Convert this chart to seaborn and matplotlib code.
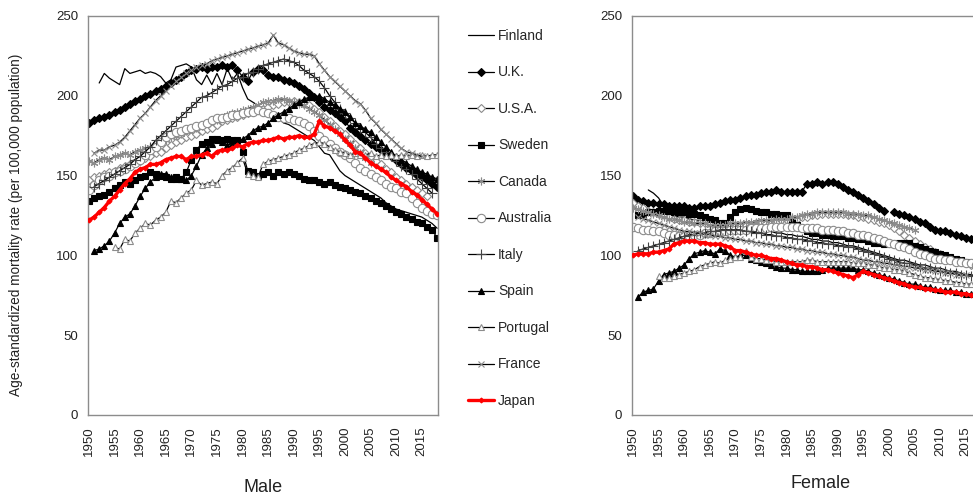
import numpy as np
import pandas as pd
import matplotlib
matplotlib.use("Agg")
import matplotlib.pyplot as plt
import seaborn as sns

# ---- data: age-standardized mortality rate (per 100,000) ----
COUNTRIES = ["Finland", "U.K.", "U.S.A.", "Sweden", "Canada", "Australia",
             "Italy", "Spain", "Portugal", "France", "Japan"]

# first year of each series (male, female)
START_M = [1952, 1950, 1950, 1950, 1950, 1950, 1951, 1951, 1955, 1951, 1950]
START_F = [1953, 1950, 1950, 1951, 1950, 1950, 1951, 1951, 1955, 1951, 1950]

finland_m = [208, 214, 211, 209, 207, 217, 214, 215,
             216, 214, 215, 214, 212, 208, 210, 218, 219, 220,
             218, 210, 207, 213, 207, 214, 207, 217, 210, 214,
             205, 198, 196, 194, 192, 190, 189, 186, 183, 182,
             180, 178, 176, 174, 172, 168, 164, 163, 158, 153,
             150, 148, 146, 144, 142, 140, 138, 136, 133, 131,
             129, 128, 127, 126, 125, 124, 122, 120, 117]
uk_m = [183, 185, 186, 187, 188, 190, 191, 193, 195, 197,
        198, 200, 201, 203, 204, 206, 208, 210, 212, 214,
        216, 217, 218, 217, 218, 218, 219, 218, 219, 216,
        212, 209, 215, 217, 216, 213, 212, 212, 210, 209,
        208, 206, 204, 202, 199, 196, 193, 191, 189, 187,
        184, 180, 177, 175, 172, 170, 168, 166, 164, 162,
        160, 157, 155, 153, 151, 149, 147, 145, 143]
usa_m = [147, 149, 150, 151, 152, 153, 155, 156, 157, 158,
         159, 161, 162, 164, 165, 167, 169, 171, 172, 174,
         175, 176, 178, 179, 180, 182, 184, 185, 186, 187,
         188, 189, 190, 191, 192, 193, 194, 195, 196, 196,
         197, 196, 195, 194, 192, 190, 187, 184, 181, 178,
         176, 173, 170, 167, 164, 162, 159, 157, 154, 152,
         149, 147, 145, 143, 141, 139, 137]
sweden_m = [134, 136, 137, 138, 140, 142, 144, 146, 145, 147,
            149, 150, 152, 151, 150, 149, 148, 149, 148, 152,
            160, 166, 170, 171, 173, 173, 172, 173, 172, 172,
            165, 153, 152, 150, 151, 152, 150, 152, 151, 152,
            151, 150, 148, 147, 147, 146, 145, 146, 144, 143,
            142, 141, 140, 139, 137, 136, 134, 133, 131, 129,
            127, 126, 124, 123, 121, 120, 118, 116, 111]
canada_m = [159, 158, 160, 161, 160, 162, 163, 164, 163, 165,
            166, 167, 168, 170, 171, 172, 174, 175, 176, 178,
            179, 180, 181, 183, 184, 185, 186, 188, 189, 190,
            191, 192, 193, 194, 196, 197, 197, 198, 198, 197,
            196, 195, 194, 192, 190, 188, 185, 182, 179, 176,
            173, 170, 167, 164, 161, 158]
australia_m = [141, 144, 147, 149, 150, 152, 153, 154, 156, 158,
               160, 163, 166, 168, 171, 174, 176, 177, 178, 179,
               180, 181, 182, 183, 185, 186, 186, 187, 188, 188,
               189, 190, 190, 191, 190, 189, 188, 187, 186, 186,
               185, 184, 183, 181, 178, 175, 172, 170, 167, 165,
               163, 161, 158, 155, 153, 151, 149, 147, 145, 143,
               142, 140, 139, 136, 133, 130, 128, 126, 125]
italy_m = [143, 145, 147, 149, 151, 153, 155, 157, 160,
           162, 165, 168, 172, 175, 178, 181, 184, 187, 190,
           193, 196, 199, 200, 202, 204, 206, 207, 209, 211,
           212, 214, 215, 217, 219, 220, 221, 222, 223, 222,
           221, 219, 216, 214, 212, 209, 205, 200, 196, 192,
           189, 186, 183, 180, 177, 174, 170, 167, 165, 162,
           159, 156, 154, 151, 148, 145, 142, 139]
spain_m = [103, 104, 106, 109, 114, 120, 124, 126, 131,
           137, 142, 146, 149, 151, 151, 149, 148, 148, 147,
           150, 156, 163, 167, 170, 172, 171, 169, 170, 171,
           173, 175, 178, 180, 181, 183, 186, 188, 190, 192,
           194, 196, 198, 199, 199, 200, 198, 196, 194, 192,
           190, 187, 183, 181, 179, 177, 174, 171, 168, 165,
           162, 160, 158, 156, 154, 152, 151, 149, 148]
portugal_m = [105, 104, 110, 109, 114,
              117, 120, 119, 122, 124, 127, 134, 133, 136, 139,
              141, 147, 144, 145, 146, 145, 150, 153, 155, 158,
              161, 151, 150, 149, 157, 159, 160, 161, 162, 163,
              164, 166, 167, 169, 170, 171, 170, 168, 166, 165,
              164, 163, 164, 163, 163, 164, 162, 163, 162, 163,
              162, 163, 162, 163, 162, 163, 162, 163, 163]
france_m = [164, 166, 166, 168, 169, 171, 174, 178, 182,
            186, 189, 193, 197, 200, 203, 206, 209, 212, 214,
            216, 218, 219, 220, 222, 223, 224, 225, 226, 227,
            228, 229, 230, 231, 232, 233, 238, 233, 232, 230,
            228, 227, 226, 226, 225, 220, 216, 212, 209, 206,
            203, 200, 197, 195, 191, 186, 183, 179, 176, 173,
            170, 167, 165, 164, 163, 162]
japan_m = [122, 124, 127, 130, 134, 137, 141, 145, 148, 152,
           154, 155, 157, 157, 158, 160, 161, 162, 162, 160,
           162, 162, 163, 164, 162, 165, 166, 166, 167, 169,
           168, 170, 171, 171, 172, 172, 173, 174, 173, 174,
           174, 175, 174, 174, 176, 184, 181, 180, 178, 176,
           172, 169, 165, 164, 161, 158, 156, 154, 152, 149,
           147, 145, 143, 140, 138, 135, 132, 129, 126]

finland_f = [141, 139, 136, 131, 127, 125, 124,
             124, 123, 122, 122, 121, 121, 120, 120, 119, 119,
             118, 118, 117, 117, 116, 116, 115, 115, 114, 114,
             113, 113, 112, 112, 111, 110, 110, 109, 109, 108,
             108, 107, 106, 106, 105, 104, 103, 102, 101, 100,
             99, 98, 97, 97, 96, 95, 94, 94, 93, 92,
             92, 91, 90, 90, 89, 88, 88, 87, 87]
uk_f = [137, 135, 134, 133, 133, 132, 132, 131, 131, 131,
        131, 130, 130, 131, 131, 131, 132, 133, 134, 135,
        135, 136, 137, 138, 138, 139, 140, 140, 141, 140,
        140, 140, 140, 140, 145, 145, 146, 145, 146, 146,
        145, 143, 141, 140, 138, 136, 134, 132, 130, 128,
        np.nan, 127, 126, 125, 124, 123, 121, 120, 118, 116,
        115, 115, 114, 113, 112, 111, 110, 109, 108]
usa_f = [133, 131, 130, 128, 127, 126, 125, 124, 123, 122,
         122, 121, 121, 120, 120, 120, 119, 119, 119, 119,
         119, 119, 119, 119, 120, 120, 120, 121, 121, 122,
         122, 123, 123, 124, 124, 125, 125, 126, 126, 126,
         126, 126, 125, 125, 124, 124, 123, 122, 121, 120,
         119, 117, 115, 113, 111, 109, 107, 105, 104, 102,
         101, 99, 98, 97, 96, 95, 94]
sweden_f = [125, 126, 127, 127, 128, 128, 128, 127, 127,
            127, 126, 126, 125, 124, 123, 122, 120, 120, 124,
            127, 129, 130, 129, 128, 127, 127, 126, 126, 125,
            125, 121, 119, 117, 115, 114, 114, 113, 113, 112,
            112, 112, 111, 111, 110, 110, 109, 108, 108, 107,
            108, 107, 108, 108, 108, 106, 105, 104, 103, 102,
            101, 100, 99, 98, 97, 96, 95, 94, 93]
canada_f = [130, 129, 128, 127, 126, 125, 124, 123, 123, 122,
            121, 121, 120, 120, 120, 119, 119, 119, 119, 120,
            120, 120, 121, 121, 121, 122, 122, 122, 123, 123,
            123, 124, 124, 125, 126, 126, 127, 127, 127, 127,
            127, 127, 126, 126, 126, 125, 125, 124, 123, 122,
            121, 120, 119, 118, 117, 116]
australia_f = [118, 117, 116, 116, 115, 115, 114, 113, 113, 112,
               112, 112, 113, 113, 114, 114, 115, 115, 115, 116,
               116, 116, 116, 117, 117, 117, 117, 118, 118, 118,
               118, 118, 118, 117, 117, 117, 117, 116, 116, 116,
               115, 115, 114, 114, 113, 113, 112, 111, 110, 109,
               108, 107, 106, 105, 104, 102, 101, 100, 99, 98,
               98, 97, 97, 96, 96, 95, 95, 94, 94]
italy_f = [103, 104, 105, 106, 107, 108, 109, 110, 111,
           112, 113, 113, 114, 114, 115, 115, 116, 116, 116,
           116, 116, 115, 115, 114, 114, 113, 113, 112, 112,
           111, 111, 110, 110, 109, 109, 108, 108, 107, 107,
           106, 106, 105, 105, 104, 103, 102, 101, 100, 99,
           98, 97, 96, 95, 95, 94, 93, 92, 92, 91,
           90, 90, 89, 89, 88, 88, 87, 87]
spain_f = [74, 77, 78, 79, 84, 88, 89, 90, 92,
           94, 98, 101, 102, 103, 102, 101, 104, 103, 100,
           99, 100, 100, 98, 97, 96, 95, 94, 93, 92,
           92, 91, 91, 90, 90, 90, 90, 91, 92, 92,
           92, 92, 92, 92, 91, 91, 90, 89, 88, 87,
           86, 85, 84, 83, 82, 82, 81, 80, 80, 79,
           78, 78, 78, 77, 77, 76, 76, 75, 75]
portugal_f = [87, 86, 86, 87, 88,
              89, 90, 91, 93, 94, 95, 96, 95, 97, 98,
              99, 99, 103, 99, 98, 98, 97, 97, 96, 96,
              96, 96, 96, 96, 97, 97, 96, 96, 96, 96,
              96, 96, 96, 95, 95, 95, 94, 94, 93, 92,
              92, 91, 91, 90, 89, 88, 87, 86, 86, 85,
              85, 84, 84, 83, 83, 82, 82, 82, 81]
france_f = [124, 123, 122, 121, 120, 119, 118, 117, 116,
            115, 115, 114, 114, 113, 113, 112, 112, 111, 111,
            110, 110, 109, 109, 108, 108, 107, 107, 106, 106,
            105, 105, 104, 104, 103, 103, 102, 102, 101, 101,
            100, 100, 99, 99, 98, 97, 97, 96, 96, 95,
            95, 94, 94, 93, 93, 92, 92, 91, 91, 90,
            90, 89, 89, 88, 88, 88]
japan_f = [100, 101, 101, 101, 102, 102, 103, 104, 107, 108,
           109, 109, 109, 108, 108, 107, 107, 107, 106, 105,
           103, 103, 102, 101, 100, 100, 99, 98, 98, 97,
           96, 95, 94, 94, 93, 93, 92, 91, 91, 90,
           89, 88, 87, 86, 88, 90, 89, 88, 87, 86,
           85, 84, 83, 82, 81, 80, 80, 79, 79, 78,
           78, 77, 77, 77, 76, 76, 75, 75, 74]

MALE = [finland_m, uk_m, usa_m, sweden_m, canada_m, australia_m,
        italy_m, spain_m, portugal_m, france_m, japan_m]
FEMALE = [finland_f, uk_f, usa_f, sweden_f, canada_f, australia_f,
          italy_f, spain_f, portugal_f, france_f, japan_f]

YTICKS = [0, 50, 100, 150, 200, 250]
XTICKS = list(range(1950, 2016, 5))

# ---- marker styles (Excel-like black & white) ----
GREY = "#8c8c8c"
STYLES = {
    "Finland":   dict(marker=None),
    "U.K.":      dict(marker="D", markersize=4, markerfacecolor="black", markeredgecolor="black"),
    "U.S.A.":    dict(marker="D", markersize=4.5, markerfacecolor="white", markeredgecolor=GREY),
    "Sweden":    dict(marker="s", markersize=4, markerfacecolor="black", markeredgecolor="black"),
    "Canada":    dict(marker=(6, 2, 0), markersize=5.5, markerfacecolor=GREY, markeredgecolor=GREY),
    "Australia": dict(marker="o", markersize=6, markerfacecolor="white", markeredgecolor=GREY),
    "Italy":     dict(marker="+", markersize=6.5, markerfacecolor="#444444", markeredgecolor="#444444"),
    "Spain":     dict(marker="^", markersize=5, markerfacecolor="black", markeredgecolor="black"),
    "Portugal":  dict(marker="^", markersize=5, markerfacecolor="white", markeredgecolor=GREY),
    "France":    dict(marker="x", markersize=5, markerfacecolor=GREY, markeredgecolor=GREY),
    "Japan":     dict(marker="D", markersize=2.5, markerfacecolor="red", markeredgecolor="red"),
}

sns.set_style("white")
plt.rcParams["font.family"] = ["Liberation Sans", "DejaVu Sans"]

fig = plt.figure(figsize=(9.73, 5.01), dpi=100)
ax_m = fig.add_axes([0.0901, 0.1717, 0.3597, 0.7964])
ax_f = fig.add_axes([0.6492, 0.1717, 0.3597, 0.7964])


def draw(ax, name, start, vals):
    df = pd.DataFrame({"year": np.arange(start, start + len(vals)),
                       "rate": np.array(vals, dtype=float)})
    df["seg"] = df["rate"].isna().cumsum()
    df = df.dropna()
    is_japan = name == "Japan"
    sns.lineplot(data=df, x="year", y="rate", units="seg", estimator=None,
                 ax=ax, label=name,
                 color="red" if is_japan else "black",
                 linewidth=2.4 if is_japan else 0.9,
                 markeredgewidth=0.8,
                 zorder=5 if is_japan else 2,
                 **STYLES[name])


for name, s, v in zip(COUNTRIES, START_M, MALE):
    draw(ax_m, name, s, v)
for name, s, v in zip(COUNTRIES, START_F, FEMALE):
    draw(ax_f, name, s, v)

for ax, title in [(ax_m, "Male"), (ax_f, "Female")]:
    ax.set_xlim(1949.75, 2018.1)
    ax.set_ylim(0, 250)
    ax.set_yticks(YTICKS)
    ax.set_xticks(XTICKS)
    ax.set_xticklabels([str(x) for x in XTICKS], rotation=90)
    ax.tick_params(axis="both", labelsize=9.5, colors="#808080",
                   labelcolor="#222222", direction="out", width=0.8)
    ax.tick_params(axis="y", length=3, pad=4)
    ax.tick_params(axis="x", length=5, pad=3)
    for sp in ax.spines.values():
        sp.set_color("#8c8c8c")
        sp.set_linewidth(1.0)
    ax.set_xlabel(title, fontsize=13, color="#222222")
    ax.set_ylabel("")
    if ax.get_legend() is not None:
        ax.get_legend().remove()

ax_m.xaxis.set_label_coords(0.5, -0.16)
ax_f.xaxis.set_label_coords(0.539, -0.15)

ax_m.set_ylabel("Age-standardized mortality rate (per 100,000 population)",
                fontsize=9.8, color="#222222")
ax_m.yaxis.set_label_coords(-0.185, 0.476)

handles, labels = ax_m.get_legend_handles_labels()
fig.legend(handles, labels, loc="center left", bbox_to_anchor=(0.481, 0.564),
           frameon=False, fontsize=10, handlelength=1.9, handletextpad=0.25,
           labelspacing=1.62, borderpad=0, borderaxespad=0)

fig.savefig("out.png", dpi=100)
